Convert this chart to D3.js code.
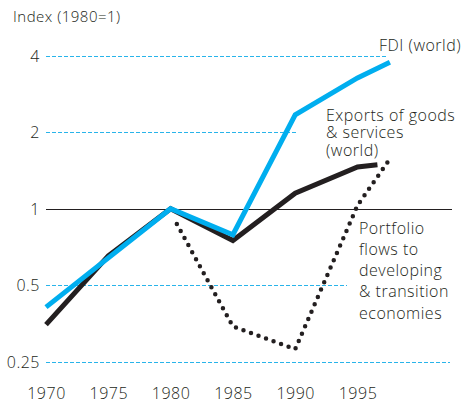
<!DOCTYPE html>
<html>
<head>
<meta charset="utf-8">
<script src="https://cdn.jsdelivr.net/npm/d3@7"></script>
<style>
  body { margin: 0; background: #fff; }
  svg { display: block; }
</style>
</head>
<body>
<div id="chart"></div>
<script>
// Values (index, 1980 = 1)
const fdiYears = [1970, 1980, 1985, 1990, 1995, 1997.6];
const fdiValues = [0.41, 1.0, 0.79, 2.34, 3.27, 3.77];

const exportYears = [1970, 1975, 1980, 1985, 1990, 1995, 1996.6];
const exportValues = [0.35, 0.653, 1.0, 0.75, 1.15, 1.46, 1.49];

const portfolioYears = [1980.5, 1985, 1990, 1995, 1997.4];
const portfolioValues = [0.87, 0.344, 0.28, 1.03, 1.52];

const yearTicks = [1970, 1975, 1980, 1985, 1990, 1995];
const indexTicks = [0.25, 0.5, 1, 2, 4];
const indexTickLabels = ["0.25", "0.5", "1", "2", "4"];

// Layout
const width = 466;
const height = 404;
const textColor = "#231f20";
const blue = "#00aeef";
const gridBlue = "#29b4ea";
const font = "'Open Sans', sans-serif";
const spacing = "0.5px";

// Where each reference line stops (pixels)
const gridEnd = {0.25: 450, 0.5: 347, 1: 452, 2: 298, 4: 387};

const svg = d3.select("#chart").append("svg")
  .attr("width", width)
  .attr("height", height);

const x = d3.scaleLinear()
  .domain([1970, 1995])
  .range([46, 357.5]);

const y = d3.scaleLog()
  .base(2)
  .domain([0.25, 4])
  .range([361.7, 55.7]);

// Title
svg.append("text")
  .attr("x", 13)
  .attr("y", 22)
  .attr("fill", textColor)
  .attr("font-family", font)
  .attr("font-weight", 300)
  .attr("letter-spacing", spacing)
  .attr("font-size", "15px")
  .text("Index (1980=1)");

// Horizontal reference lines
indexTicks.forEach(function(v) {
  svg.append("line")
    .attr("x1", 46)
    .attr("x2", gridEnd[v])
    .attr("y1", Math.round(y(v)) + 0.5)
    .attr("y2", Math.round(y(v)) + 0.5)
    .attr("stroke", v === 1 ? textColor : gridBlue)
    .attr("stroke-width", 1)
    .attr("stroke-dasharray", v === 1 ? null : "4,2");
});

// Y tick labels
svg.append("g")
  .selectAll("text")
  .data(indexTicks)
  .join("text")
  .attr("x", 40)
  .attr("y", d => y(d) + 6)
  .attr("text-anchor", "end")
  .attr("fill", textColor)
  .attr("font-family", font)
  .attr("font-weight", 300)
  .attr("letter-spacing", spacing)
  .attr("font-size", "16px")
  .text((d, i) => indexTickLabels[i]);

// X axis labels (no axis line in the reference)
const xAxis = d3.axisBottom(x)
  .tickValues(yearTicks)
  .tickFormat(d3.format("d"))
  .tickSize(0)
  .tickPadding(0);

const xg = svg.append("g")
  .attr("transform", "translate(0, 387.5)")
  .call(xAxis);
xg.select(".domain").remove();
xg.selectAll("text")
  .attr("fill", textColor)
  .attr("font-family", font)
  .attr("font-weight", 300)
  .attr("letter-spacing", spacing)
  .attr("font-size", "16px");

// Lines
const line = d3.line()
  .x(d => x(d[0]))
  .y(d => y(d[1]));

svg.append("path")
  .datum(d3.zip(exportYears, exportValues))
  .attr("d", line)
  .attr("fill", "none")
  .attr("stroke", textColor)
  .attr("stroke-width", 5);

svg.append("path")
  .datum(d3.zip(portfolioYears, portfolioValues))
  .attr("d", line)
  .attr("fill", "none")
  .attr("stroke", textColor)
  .attr("stroke-width", 4.5)
  .attr("stroke-linecap", "round")
  .attr("stroke-dasharray", "0,8");

svg.append("path")
  .datum(d3.zip(fdiYears, fdiValues))
  .attr("d", line)
  .attr("fill", "none")
  .attr("stroke", blue)
  .attr("stroke-width", 5);

// Annotations
function label(lines, lx, ly, lineHeight) {
  const t = svg.append("text")
    .attr("fill", textColor)
    .attr("font-family", font)
    .attr("font-weight", 300)
    .attr("letter-spacing", spacing)
    .attr("font-size", "16px");
  lines.forEach(function(s, i) {
    t.append("tspan")
      .attr("x", lx)
      .attr("y", ly + i * lineHeight)
      .text(s);
  });
}

label(["FDI (world)"], 379, 51, 0);
label(["Exports of goods", "& services", "(world)"], 326, 120.5, 17.7);
label(["Portfolio", "flows to", "developing", "& transition", "economies"], 359, 233.5, 21.25);
</script>
</body>
</html>
